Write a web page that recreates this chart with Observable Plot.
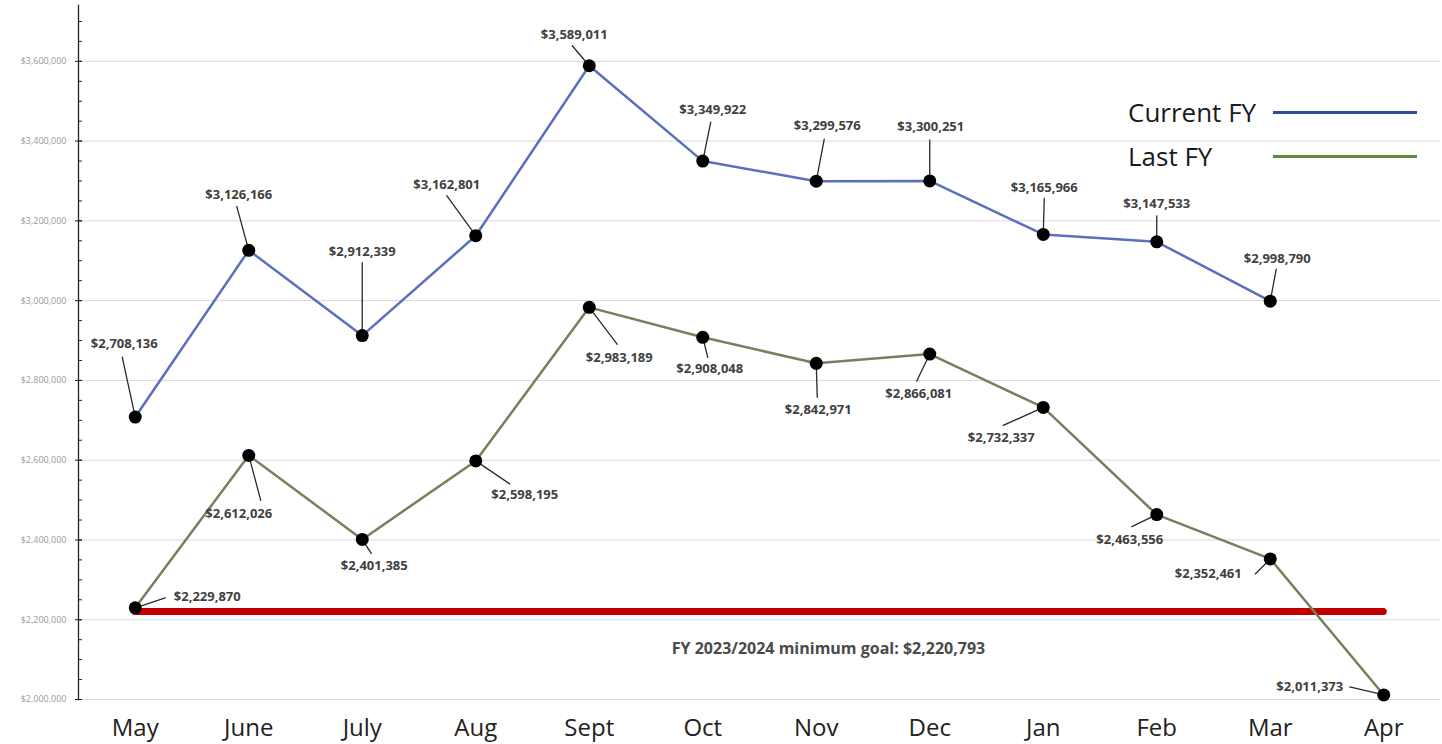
<!DOCTYPE html>
<html>
<head>
<meta charset="utf-8">
<script src="https://cdn.jsdelivr.net/npm/d3@7"></script>
<script src="https://cdn.jsdelivr.net/npm/@observablehq/plot@0.6"></script>
<style>
  html, body { margin: 0; padding: 0; background: #fff; overflow: hidden; }
  #wrap { position: relative; width: 1442px; height: 744px; font-family: "Open Sans", sans-serif; }
  #legend { position: absolute; left: 1128px; top: 90px; }
  .item { display: flex; align-items: center; height: 44px; font-size: 26px; color: #1a1a1a; }
  .item span { width: 145px; }
  .item i { display: block; width: 144px; height: 3px; }
</style>
</head>
<body>
<div id="wrap"><div id="chart"></div>
  <div id="legend">
    <div class="item"><span>Current FY</span><i style="background:#2f4b9b"></i></div>
    <div class="item"><span>Last FY</span><i style="background:#5f8a3c"></i></div>
  </div>
</div>
<script>
// Monthly revenue, fiscal year May–Apr
const months = ["May", "June", "July", "Aug", "Sept", "Oct", "Nov", "Dec", "Jan", "Feb", "Mar", "Apr"];
const currentFY = [2708136, 3126166, 2912339, 3162801, 3589011, 3349922, 3299576, 3300251, 3165966, 3147533, 2998790];
const lastFY = [2229870, 2612026, 2401385, 2598195, 2983189, 2908048, 2842971, 2866081, 2732337, 2463556, 2352461, 2011373];
const goal = 2220793;
const goalTitle = "FY 2023/2024 minimum goal";
const yTicks = d3.range(2000000, 3600001, 200000);
const yMinorTicks = d3.range(2000000, 3740000, 50000);

// Label placement: [label dx, label dy, leader dx, leader dy] in pixels from each dot
const currentLabelLayout = [
  [-11, -73, -13, -60], [-10, -55, -12, -44], [0, -84, 0, -73], [-29, -51, -29, -40],
  [-15, -31, -17, -20], [10, -51, 8, -39], [11, -55, 8, -42], [1, -54, 0, -41],
  [1, -47, 1, -36], [0, -38, 0, -26], [7, -42, 6, -32]
];
const lastLabelLayout = [
  [72, -11, 30, -10], [-10, 58, 12, 45], [12, 26, 9, 14], [49, 34, 34, 23],
  [30, 50, 28, 37], [7, 32, 5, 20], [2, 47, 1, 34], [-11, 40, -13, 27],
  [-42, 30, -40, 18], [-27, 25, -25, 12], [-62, 15, -15, 15], [-74, -8, -34, -8]
];

const money = d3.format("$,");
const current = currentFY.map((v, i) => ({month: months[i], value: v}));
const last = lastFY.map((v, i) => ({month: months[i], value: v}));
const goalRow = [{value: goal, from: months[0], to: months[months.length - 1]}];

function leaders(rows, layout) {
  return rows.flatMap((d, i) => {
    const [, , lx, ly] = layout[i];
    const len = Math.hypot(lx, ly);
    if (!len) return [];
    return [Plot.vector([d], {
      x: "month", y: "value", length: len,
      rotate: Math.atan2(lx, -ly) * 180 / Math.PI,
      anchor: "start", r: 0, stroke: "#2a2a2a", strokeWidth: 1.3
    })];
  });
}
function labels(rows, layout) {
  return rows.map((d, i) => Plot.text([d], {
    x: "month", y: "value", text: (r) => money(r.value),
    dx: layout[i][0], dy: layout[i][1],
    fontSize: 13, fontWeight: "bold", fill: "#404040"
  }));
}

const frameWidth = 1442 - 78 - 2;

const chart = Plot.plot({
  width: 1442,
  height: 744,
  marginLeft: 78,
  marginRight: 2,
  marginTop: 5,
  marginBottom: 45,
  style: {fontFamily: "Open Sans, sans-serif", background: "#fff"},
  x: {type: "point", domain: months, padding: 0.5, round: false},
  y: {domain: [2000000, 3740000]},
  marks: [
    Plot.gridY(yTicks, {stroke: "#d9d9d9", strokeOpacity: 1}),
    Plot.axisY(yTicks, {tickSize: 0, tickPadding: 12, tickFormat: money, fontSize: 9, color: "#9a9a9a", label: null}),
    Plot.ruleY(yTicks, {stroke: "#222", insetLeft: -3, insetRight: frameWidth - 4}),
    Plot.ruleY(yMinorTicks, {stroke: "#222", insetRight: frameWidth - 4}),
    Plot.frame({anchor: "left", stroke: "#222", strokeWidth: 1.3}),
    Plot.axisX({tickSize: 0, tickPadding: 19, fontSize: 24, color: "#222", label: null}),
    Plot.ruleY(goalRow, {x1: "from", x2: "to", y: "value", stroke: "#c00000", strokeWidth: 7, strokeLinecap: "round"}),
    Plot.text([`${goalTitle}: ${money(goal)}`], {
      frameAnchor: "bottom", dx: 69, dy: -46, fontSize: 16, fontWeight: "bold", fill: "#4a4a4a"
    }),
    Plot.line(last, {x: "month", y: "value", stroke: "#76805c", strokeWidth: 2.5}),
    Plot.line(current, {x: "month", y: "value", stroke: "#5b6fbf", strokeWidth: 2.5}),
    ...leaders(current, currentLabelLayout),
    ...leaders(last, lastLabelLayout),
    Plot.dot(last, {x: "month", y: "value", r: 6.5, fill: "#000"}),
    Plot.dot(current, {x: "month", y: "value", r: 6.5, fill: "#000"}),
    ...labels(current, currentLabelLayout),
    ...labels(last, lastLabelLayout)
  ]
});
document.getElementById("chart").append(chart);
</script>
</body>
</html>
